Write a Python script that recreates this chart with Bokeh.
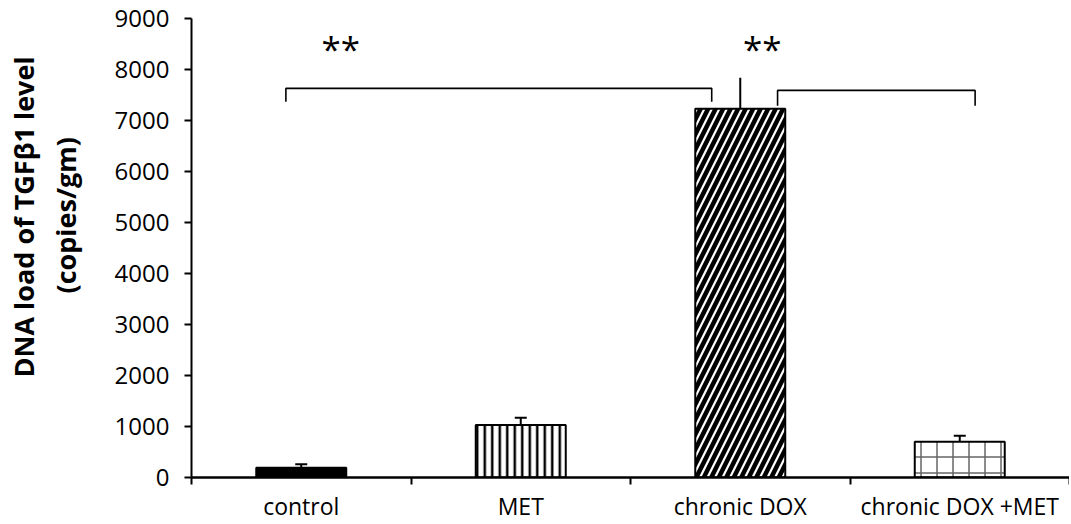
import math
from bokeh.plotting import figure
from bokeh.models import (FixedTicker, Whisker, TeeHead, ColumnDataSource, Title,
                          Range1d)
from bokeh.core.properties import value
from bokeh.embed import file_html
from bokeh.resources import INLINE

# ---- data ----
categories = ["control", "MET", "chronic DOX", "chronic DOX +MET"]
means = [190, 1030, 7230, 700]
errors = [70, 140, 610, 120]
has_cap = [True, True, False, True]
y_ticks = [0, 1000, 2000, 3000, 4000, 5000, 6000, 7000, 8000, 9000]
y_title_lines = ["DNA load of TGFβ1 level", "(copies/gm)"]

# significance brackets (data units)
bracket_x = [[0.43, 0.43, 2.37, 2.37], [2.67, 2.67, 3.57, 3.57]]
bracket_y = [[7370, 7630, 7630, 7370], [7290, 7590, 7590, 7290]]
star_x = [0.68, 2.60]
star_y = [8420, 8420]
star_text = ["**", "**"]

# ---- styles ----
FONT = "Open Sans"
fill_colors = ["black", "white", "white", "white"]
hatch_patterns = [" ", "|", "/", "+"]
hatch_scales = [8, 7.5, 15, 16]
hatch_weights = [1, 2.5, 4.5, 1.5]
hatch_alphas = [1, 1, 1, 0.6]
title_offsets = [100, 184]     # px from frame bottom to start of each title line
title_standoffs = [4, 2]

centers = [i + 0.5 for i in range(len(categories))]

p = figure(width=1069, height=524, output_backend="svg", toolbar_location=None,
           x_range=Range1d(0, 4), y_range=Range1d(0, 9000),
           min_border_left=185, min_border_right=0, min_border_top=18,
           min_border_bottom=47)
p.outline_line_color = None
p.xgrid.visible = False
p.ygrid.visible = False
p.background_fill_color = "white"
p.border_fill_color = "white"

src = ColumnDataSource(dict(x=centers, top=means, fill=fill_colors,
                            hp=hatch_patterns, hs=hatch_scales,
                            hw=hatch_weights, ha=hatch_alphas))
p.vbar(x="x", top="top", bottom=0, width=0.41, source=src,
       fill_color="fill", line_color="black", line_width=2,
       hatch_pattern="hp", hatch_scale="hs", hatch_weight="hw",
       hatch_color="black", hatch_alpha="ha")

# error bars
cap_x = [c for c, h in zip(centers, has_cap) if h]
cap_lo = [m for m, h in zip(means, has_cap) if h]
cap_hi = [m + e for m, e, h in zip(means, errors, has_cap) if h]
nocap_x = [c for c, h in zip(centers, has_cap) if not h]
nocap_lo = [m for m, h in zip(means, has_cap) if not h]
nocap_hi = [m + e for m, e, h in zip(means, errors, has_cap) if not h]

w1 = Whisker(source=ColumnDataSource(dict(base=cap_x, lower=cap_lo, upper=cap_hi)),
             base="base", lower="lower", upper="upper", dimension="height",
             line_color="black", line_width=2,
             upper_head=TeeHead(size=12, line_width=2, line_color="black"),
             lower_head=None)
w2 = Whisker(source=ColumnDataSource(dict(base=nocap_x, lower=nocap_lo, upper=nocap_hi)),
             base="base", lower="lower", upper="upper", dimension="height",
             line_color="black", line_width=2, upper_head=None, lower_head=None)
p.add_layout(w1)
p.add_layout(w2)

# brackets and stars
p.multi_line(xs=bracket_x, ys=bracket_y, line_color="black", line_width=1.6)
p.text(x=star_x, y=star_y, text=star_text, text_font=value(FONT),
       text_font_size="35px", text_align="center", text_baseline="alphabetic",
       text_color="black")

# axes
xa = p.xaxis[0]
xa.ticker = FixedTicker(ticks=centers, minor_ticks=[0, 1, 2, 3, 4])
xa.major_label_overrides = {c: name for c, name in zip(centers, categories)}
xa.major_tick_line_color = None
xa.major_tick_out = 0
xa.major_tick_in = 0
xa.minor_tick_out = 7
xa.minor_tick_in = 0
xa.minor_tick_line_color = "black"
xa.minor_tick_line_width = 2
xa.axis_line_color = "black"
xa.axis_line_width = 2.5
xa.major_label_standoff = 5
xa.major_label_text_font = FONT
xa.major_label_text_font_size = "23px"
xa.major_label_text_color = "black"

ya = p.yaxis[0]
ya.ticker = FixedTicker(ticks=y_ticks)
ya.major_tick_out = 7
ya.major_tick_in = 0
ya.minor_tick_line_color = None
ya.major_tick_line_color = "black"
ya.major_tick_line_width = 2
ya.axis_line_color = "black"
ya.axis_line_width = 2
ya.major_label_standoff = 15
ya.major_label_text_font = FONT
ya.major_label_text_font_size = "24px"
ya.major_label_text_color = "black"

# spacer between tick labels and the title lines
p.add_layout(Title(text=" ", standoff=24, text_font_size="1px"), "left")
# y-axis title (two lines) as left-side titles; inner line added first
for txt, off, so in reversed(list(zip(y_title_lines, title_offsets, title_standoffs))):
    p.add_layout(Title(text=txt, align="left", offset=off, standoff=so,
                       text_font=FONT, text_font_size="27px",
                       text_font_style="bold", text_color="black"), "left")

open("out.html", "w").write(file_html(p, INLINE))
